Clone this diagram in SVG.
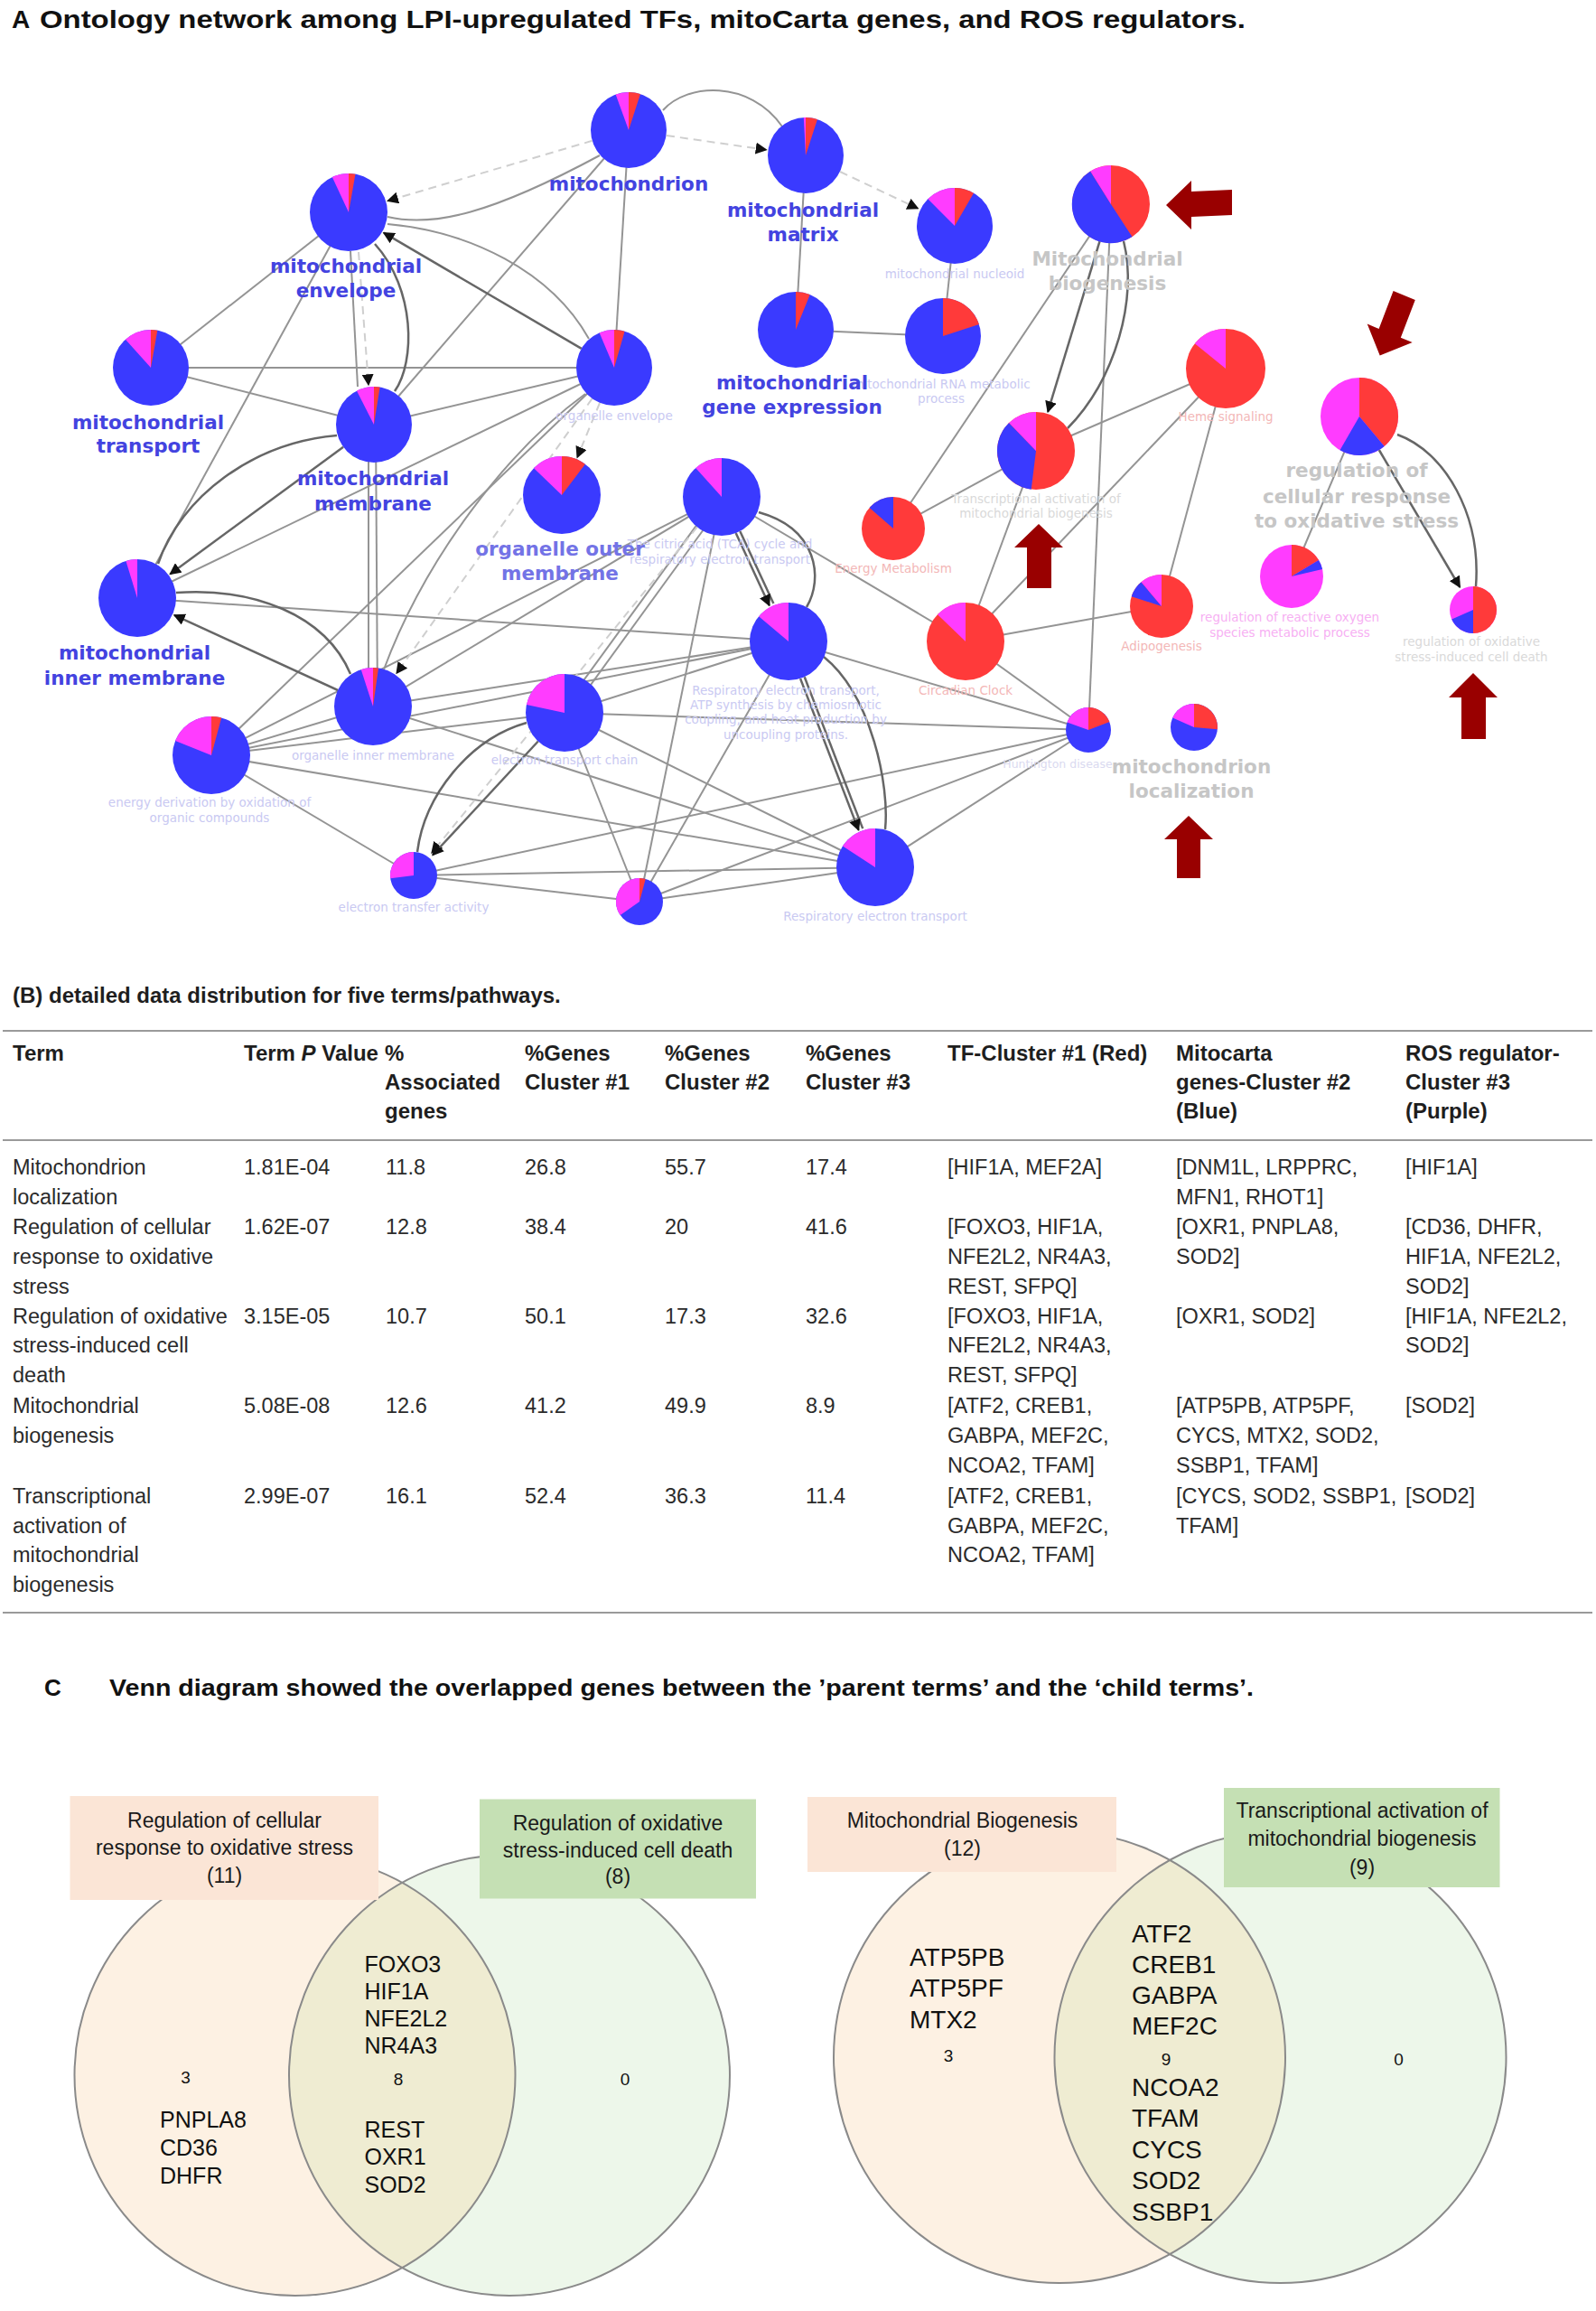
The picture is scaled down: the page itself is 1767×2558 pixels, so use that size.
<svg xmlns="http://www.w3.org/2000/svg" width="1767" height="2558" viewBox="0 0 1767 2558">
<style>
.pb{fill:#3a3aff}.pr{fill:#ff3a3a}.pm{fill:#ff3cff}
.e{stroke:#949494;stroke-width:2;fill:none}
.ed{stroke:#666;stroke-width:2.5;fill:none}
.dh{stroke:#cfcfcf;stroke-width:2;fill:none;stroke-dasharray:9 6}
.lb{font-family:"DejaVu Sans",sans-serif;font-weight:bold;font-size:21.5px;fill:#4343e0;text-anchor:middle}
.lo{fill:#7373e6}
.lg{font-family:"DejaVu Sans",sans-serif;font-weight:bold;font-size:21.5px;fill:#c6c6c6;text-anchor:middle}
.lf{font-family:"DejaVu Sans",sans-serif;font-size:13.5px;text-anchor:middle;fill:#c9c9f2}
.lp{fill:#f3b7b7}.lm{fill:#f7b0f3}.lq{fill:#d9d9d9}
.ba{fill:#990000}
.tA{font-family:"Liberation Sans",Arial,sans-serif;font-weight:bold;font-size:28px;fill:#111}
.th{font-family:"Liberation Sans",Arial,sans-serif;font-weight:bold;font-size:24px;fill:#1e1e1e}
.td{font-family:"Liberation Sans",Arial,sans-serif;font-size:23.5px;fill:#2b2b2b}
.rule{stroke:#9a9a9a;stroke-width:2}
.vb{font-family:"Liberation Sans",Arial,sans-serif;font-size:23px;fill:#1a1a1a;text-anchor:middle}
.vg{font-family:"Liberation Sans",Arial,sans-serif;font-size:25px;fill:#111}
.vg2{font-family:"Liberation Sans",Arial,sans-serif;font-size:28px;fill:#111}
.vn{font-family:"Liberation Sans",Arial,sans-serif;font-size:19px;fill:#111;text-anchor:middle}
.vc{stroke:#8a8a8a;stroke-width:2;fill:none}
</style>
<defs>
<marker id="ah" viewBox="0 0 10 10" refX="9" refY="5" markerWidth="13" markerHeight="13" markerUnits="userSpaceOnUse" orient="auto"><path d="M0,0 L10,5 L0,10 z" fill="#111"/></marker>
<clipPath id="cl1"><circle cx="326.5" cy="2297" r="244"/></clipPath>
<clipPath id="cl2"><circle cx="1173" cy="2277" r="250"/></clipPath>
</defs>
<rect width="1767" height="2558" fill="#fff"/>

<text x="13" y="31" class="tA">A</text>
<text x="44" y="31" class="tA" textLength="1335" lengthAdjust="spacingAndGlyphs">Ontology network among LPI-upregulated TFs, mitoCarta genes, and ROS regulators.</text>

<g id="connectors">
<line class="e" x1="386" y1="235" x2="167" y2="407"/>
<line class="e" x1="167" y1="407" x2="414" y2="470"/>
<line class="e" x1="167" y1="407" x2="680" y2="407"/>
<line class="e" x1="388" y1="278" x2="396" y2="428"/>
<line class="e" x1="414" y1="470" x2="696" y2="144"/>
<line class="e" x1="414" y1="470" x2="680" y2="407" stroke-width="2.5"/>
<line class="e" x1="696" y1="144" x2="680" y2="407"/>
<line class="e" x1="892" y1="172" x2="881" y2="365"/>
<line class="e" x1="881" y1="365" x2="1044" y2="372"/>
<line class="e" x1="1057" y1="250" x2="1044" y2="372"/>
<line class="e" x1="386" y1="235" x2="152" y2="662"/>
<line class="e" x1="680" y1="407" x2="152" y2="662"/>
<line class="e" x1="152" y1="662" x2="873" y2="710"/>
<line class="e" x1="408" y1="470" x2="408" y2="782"/>
<line class="e" x1="416" y1="470" x2="418" y2="782"/>
<line class="e" x1="680" y1="407" x2="234" y2="836"/>
<line class="e" x1="799" y1="550" x2="1069" y2="710"/>
<line class="e" x1="794" y1="550" x2="620" y2="789"/>
<line class="e" x1="803" y1="553" x2="630" y2="791"/>
<line class="e" x1="799" y1="550" x2="413" y2="782"/>
<line class="e" x1="799" y1="550" x2="234" y2="836"/>
<line class="e" x1="799" y1="550" x2="708" y2="998"/>
<line class="e" x1="873" y1="710" x2="1205" y2="808"/>
<line class="e" x1="873" y1="710" x2="413" y2="782"/>
<line class="e" x1="873" y1="710" x2="625" y2="789"/>
<line class="e" x1="873" y1="710" x2="234" y2="836"/>
<line class="e" x1="873" y1="710" x2="708" y2="998"/>
<line class="e" x1="625" y1="789" x2="969" y2="960"/>
<line class="e" x1="625" y1="789" x2="708" y2="998"/>
<line class="e" x1="625" y1="789" x2="1205" y2="808"/>
<line class="e" x1="234" y1="836" x2="413" y2="782"/>
<line class="e" x1="234" y1="836" x2="625" y2="789"/>
<line class="e" x1="234" y1="836" x2="969" y2="960"/>
<line class="e" x1="234" y1="836" x2="458" y2="969"/>
<line class="e" x1="458" y1="969" x2="969" y2="960"/>
<line class="e" x1="458" y1="969" x2="708" y2="998"/>
<line class="e" x1="458" y1="969" x2="1205" y2="808"/>
<line class="e" x1="708" y1="998" x2="969" y2="960"/>
<line class="e" x1="708" y1="998" x2="1205" y2="808"/>
<line class="e" x1="969" y1="960" x2="1205" y2="808"/>
<line class="e" x1="413" y1="782" x2="969" y2="960"/>
<line class="e" x1="1230" y1="226" x2="1205" y2="808"/>
<line class="e" x1="1230" y1="226" x2="989" y2="585"/>
<line class="e" x1="1147" y1="499" x2="1357" y2="408"/>
<line class="e" x1="1147" y1="499" x2="989" y2="585"/>
<line class="e" x1="1147" y1="499" x2="1069" y2="710"/>
<line class="e" x1="1069" y1="710" x2="1357" y2="408"/>
<line class="e" x1="1069" y1="710" x2="1286" y2="671"/>
<line class="e" x1="1069" y1="710" x2="1205" y2="808"/>
<line class="e" x1="1357" y1="408" x2="1286" y2="671"/>
<line class="e" x1="1505" y1="461" x2="1430" y2="638"/>
<path class="e" d="M734,122 C760,92 830,88 866,140"/>
<path class="e" d="M429,240 C480,252 545,236 664,172"/>
<path class="e" d="M429,248 C520,256 610,300 652,375"/>
<path class="ed" d="M415,270 C460,320 460,400 437,433"/>
<path class="ed" d="M373,482 C280,490 200,550 175,624"/>
<path class="ed" d="M195,656 C280,650 360,680 388,746"/>
<path class="e" d="M425,741 C470,620 560,500 648,436"/>
<path class="ed" d="M840,567 C905,585 912,640 893,672"/>
<path class="ed" d="M912,727 C965,770 985,870 980,918"/>
<path class="ed" d="M583,800 C520,818 470,880 462,943"/>
<path class="ed" d="M1244,267 C1260,330 1235,420 1182,474"/>
<path class="ed" d="M1547,481 C1600,500 1640,570 1634,649"/>
<line class="dh" x1="655.7" y1="155.8" x2="429.2" y2="222.3" marker-end="url(#ah)"/>
<line class="dh" x1="738" y1="150" x2="848.4" y2="165.8" marker-end="url(#ah)"/>
<line class="dh" x1="930" y1="190" x2="1016.3" y2="230.8" marker-end="url(#ah)"/>
<line class="dh" x1="397" y1="279" x2="408" y2="426" marker-end="url(#ah)"/>
<line class="dh" x1="655.6" y1="441.2" x2="439.1" y2="745.3" marker-end="url(#ah)"/>
<line class="dh" x1="664" y1="446" x2="639.1" y2="506.4" marker-end="url(#ah)"/>
<line class="dh" x1="771.9" y1="583.4" x2="478" y2="944" marker-end="url(#ah)"/>
<line class="ed" x1="643.8" y1="385.8" x2="424.8" y2="257.7" marker-end="url(#ah)"/>
<line class="ed" x1="380.1" y1="494.8" x2="188.3" y2="635.4" marker-end="url(#ah)"/>
<line class="ed" x1="374" y1="764" x2="192.9" y2="680.8" marker-end="url(#ah)"/>
<line class="ed" x1="819.3" y1="588" x2="856.4" y2="668" />
<line class="ed" x1="814.7" y1="590" x2="851.8" y2="670.2" marker-end="url(#ah)"/>
<line class="ed" x1="890.7" y1="749.3" x2="955.2" y2="917.1"/>
<line class="ed" x1="886.1" y1="751.1" x2="950.6" y2="918.9" marker-end="url(#ah)"/>
<line class="ed" x1="595.8" y1="820.5" x2="479" y2="946.5" marker-end="url(#ah)"/>
<line class="ed" x1="1217.5" y1="267.2" x2="1160.1" y2="455.9" marker-end="url(#ah)"/>
<line class="ed" x1="1526.8" y1="498" x2="1616.3" y2="650" marker-end="url(#ah)"/>
</g>

<g id="n-mitochondrion" transform="translate(696,144)"><circle r="42" class="pb"/><path class="pr" d="M0,0V-42A42,42 0 0 1 12.98,-39.94Z"/><path class="pm" d="M0,0L-14.36,-39.47A42,42 0 0 1 0,-42Z"/><text class="lb" y="67">mitochondrion</text></g>
<g id="n-matrix" transform="translate(892,172)"><circle r="42" class="pb"/><path class="pr" d="M0,0V-42A42,42 0 0 1 12.98,-39.94Z"/><path class="pm" d="M0,0L-2.2,-41.94A42,42 0 0 1 0,-42Z"/><text class="lb" x="-3" y="68">mitochondrial</text><text class="lb" x="-3" y="95">matrix</text></g>
<g id="n-nucleoid" transform="translate(1057,250)"><circle r="42" class="pb"/><path class="pr" d="M0,0V-42A42,42 0 0 1 21,-36.37Z"/><path class="pm" d="M0,0L-29.7,-29.7A42,42 0 0 1 0,-42Z"/><text class="lf" y="58">mitochondrial nucleoid</text></g>
<g id="n-envelope" transform="translate(386,235)"><circle r="43" class="pb"/><path class="pr" d="M0,0V-43A43,43 0 0 1 7.46,-42.35Z"/><path class="pm" d="M0,0L-18.17,-38.97A43,43 0 0 1 0,-43Z"/><text class="lb" x="-3" y="67">mitochondrial</text><text class="lb" x="-3" y="94">envelope</text></g>
<g id="n-transport" transform="translate(167,407)"><circle r="42" class="pb"/><path class="pr" d="M0,0V-42A42,42 0 0 1 7.29,-41.36Z"/><path class="pm" d="M0,0L-28.1,-31.21A42,42 0 0 1 0,-42Z"/><text class="lb" x="-3" y="68">mitochondrial</text><text class="lb" x="-3" y="94">transport</text></g>
<g id="n-org-envelope" transform="translate(680,407)"><circle r="42" class="pb"/><path class="pr" d="M0,0V-42A42,42 0 0 1 11.58,-40.37Z"/><path class="pm" d="M0,0L-16.41,-38.66A42,42 0 0 1 0,-42Z"/><text class="lf" y="58">organelle envelope</text></g>
<g id="n-gene-expression" transform="translate(881,365)"><circle r="42" class="pb"/><path class="pr" d="M0,0V-42A42,42 0 0 1 15.73,-38.94Z"/></g>
<g id="n-rna" transform="translate(1044,372)"><circle r="42" class="pb"/><path class="pr" d="M0,0V-42A42,42 0 0 1 39.95,-12.98Z"/><text class="lf" x="-2" y="58">mitochondrial RNA metabolic</text><text class="lf" x="-2" y="74">process</text></g>
<g id="n-gene-expression-label"><text class="lb" x="877" y="431">mitochondrial</text><text class="lb" x="877" y="458">gene expression</text></g>
<g id="n-membrane" transform="translate(414,470)"><circle r="42" class="pb"/><path class="pr" d="M0,0V-42A42,42 0 0 1 6.57,-41.48Z"/><path class="pm" d="M0,0L-19.07,-37.42A42,42 0 0 1 0,-42Z"/><text class="lb" x="-1" y="67">mitochondrial</text><text class="lb" x="-1" y="95">membrane</text></g>
<g id="n-org-outer" transform="translate(622,548)"><circle r="43" class="pb"/><path class="pr" d="M0,0V-43A43,43 0 0 1 25.88,-34.34Z"/><path class="pm" d="M0,0L-30.93,-29.87A43,43 0 0 1 0,-43Z"/></g>
<g id="n-tca" transform="translate(799,550)"><circle r="43" class="pb"/><path class="pm" d="M0,0L-28.77,-31.95A43,43 0 0 1 0,-43Z"/><text class="lf" x="-2" y="57">The citric acid (TCA) cycle and</text><text class="lf" x="-2" y="74">respiratory electron transport</text></g>
<g id="n-org-outer-label"><text class="lb lo" x="620" y="615">organelle outer</text><text class="lb lo" x="620" y="642">membrane</text></g>
<g id="n-inner-membrane" transform="translate(152,662)"><circle r="43" class="pb"/><path class="pm" d="M0,0L-12.57,-41.12A43,43 0 0 1 0,-43Z"/><text class="lb" x="-3" y="68">mitochondrial</text><text class="lb" x="-3" y="96">inner membrane</text></g>
<g id="n-resp-atp" transform="translate(873,710)"><circle r="43" class="pb"/><path class="pm" d="M0,0L-32.94,-27.64A43,43 0 0 1 0,-43Z"/><text class="lf" x="-3" y="59">Respiratory electron transport,</text><text class="lf" x="-3" y="75">ATP synthesis by chemiosmotic</text><text class="lf" x="-3" y="91">coupling, and heat production by</text><text class="lf" x="-3" y="108">uncoupling proteins.</text></g>
<g id="n-org-inner" transform="translate(413,782)"><circle r="43" class="pb"/><path class="pr" d="M0,0V-43A43,43 0 0 1 5.99,-42.58Z"/><path class="pm" d="M0,0L-13.29,-40.9A43,43 0 0 1 0,-43Z"/><text class="lf" y="59">organelle inner membrane</text></g>
<g id="n-etc" transform="translate(625,789)"><circle r="43" class="pb"/><path class="pm" d="M0,0L-42.06,-8.94A43,43 0 0 1 0,-43Z"/><text class="lf" y="57">electron transport chain</text></g>
<g id="n-energy-derivation" transform="translate(234,836)"><circle r="43" class="pb"/><path class="pr" d="M0,0V-43A43,43 0 0 1 11.13,-41.53Z"/><path class="pm" d="M0,0L-39.87,-16.11A43,43 0 0 1 0,-43Z"/><text class="lf" x="-2" y="57">energy derivation by oxidation of</text><text class="lf" x="-2" y="74">organic compounds</text></g>
<g id="n-electron-transfer" transform="translate(458,969)"><circle r="26" class="pb"/><path class="pm" d="M0,0L-25.8,3.17A26,26 0 0 1 0,-26Z"/><text class="lf" y="40">electron transfer activity</text></g>
<g id="n-small-bottom" transform="translate(708,998)"><circle r="26" class="pb"/><path class="pr" d="M0,0V-26A26,26 0 0 1 6.73,-25.11Z"/><path class="pm" d="M0,0L-21.3,14.91A26,26 0 0 1 0,-26Z"/></g>
<g id="n-resp-et" transform="translate(969,960)"><circle r="43" class="pb"/><path class="pm" d="M0,0L-36.06,-23.42A43,43 0 0 1 0,-43Z"/><text class="lf" y="59">Respiratory electron transport</text></g>
<g id="n-huntington" transform="translate(1205,808)"><circle r="25" class="pb"/><path class="pr" d="M0,0V-25A25,25 0 0 1 23.34,-8.96Z"/><path class="pm" d="M0,0L-23.49,-8.55A25,25 0 0 1 0,-25Z"/><text class="lf" x="-34" y="42" style="fill:#dadaf0;font-size:12.5px">Huntington disease</text></g>
<g id="n-mito-localization" transform="translate(1322,805)"><circle r="26" class="pb"/><path class="pr" d="M0,0V-26A26,26 0 0 1 25.9,2.27Z"/><path class="pm" d="M0,0L-23.75,-10.57A26,26 0 0 1 0,-26Z"/><text class="lg" x="-3" y="51">mitochondrion</text><text class="lg" x="-3" y="78">localization</text></g>
<g id="n-biogenesis" transform="translate(1230,226)"><circle r="43" class="pr"/><path class="pb" d="M0,0L23.42,36.06A43,43 0 1 1 -22.79,-36.46Z"/><path class="pm" d="M0,0L-22.79,-36.46A43,43 0 0 1 0,-43Z"/><text class="lg" x="-4" y="68">Mitochondrial</text><text class="lg" x="-4" y="95">biogenesis</text></g>
<g id="n-transcriptional" transform="translate(1147,499)"><circle r="43" class="pr"/><path class="pb" d="M0,0L-5.24,42.68A43,43 0 0 1 -29.87,-30.93Z"/><path class="pm" d="M0,0L-29.87,-30.93A43,43 0 0 1 0,-43Z"/><text class="lf lq" y="58">Transcriptional activation of</text><text class="lf lq" y="74">mitochondrial biogenesis</text></g>
<g id="n-energy-metabolism" transform="translate(989,585)"><circle r="35" class="pr"/><path class="pb" d="M0,0L-26.41,-22.96A35,35 0 0 1 0,-35Z"/><text class="lf lp" y="49">Energy Metabolism</text></g>
<g id="n-heme" transform="translate(1357,408)"><circle r="44" class="pr"/><path class="pm" d="M0,0L-34.19,-27.69A44,44 0 0 1 0,-44Z"/><text class="lf lp" y="58">Heme signaling</text></g>
<g id="n-circadian" transform="translate(1069,710)"><circle r="43" class="pr"/><path class="pm" d="M0,0L-30.93,-29.87A43,43 0 0 1 0,-43Z"/><text class="lf lp" y="59">Circadian Clock</text></g>
<g id="n-adipogenesis" transform="translate(1286,671)"><circle r="35" class="pr"/><path class="pb" d="M0,0L-33.29,-10.82A35,35 0 0 1 -22.5,-26.81Z"/><path class="pm" d="M0,0L-22.5,-26.81A35,35 0 0 1 0,-35Z"/><text class="lf lp" y="49">Adipogenesis</text></g>
<g id="n-reg-cellular" transform="translate(1505,461)"><circle r="43" class="pm"/><path class="pr" d="M0,0V-43A43,43 0 0 1 27.64,32.94Z"/><path class="pb" d="M0,0L27.64,32.94A43,43 0 0 1 -21.5,37.24Z"/><text class="lg" x="-3" y="67">regulation of</text><text class="lg" x="-3" y="96">cellular response</text><text class="lg" x="-3" y="123">to oxidative stress</text></g>
<g id="n-ros" transform="translate(1430,638)"><circle r="35" class="pm"/><path class="pr" d="M0,0V-35A35,35 0 0 1 30,-18.03Z"/><path class="pb" d="M0,0L30,-18.03A35,35 0 0 1 34.1,-7.88Z"/><text class="lf lm" x="-2" y="50">regulation of reactive oxygen</text><text class="lf lm" x="-2" y="67">species metabolic process</text></g>
<g id="n-ox-death" transform="translate(1631,675)"><circle r="26" class="pm"/><path class="pr" d="M0,0V-26A26,26 0 0 1 0,26Z"/><path class="pb" d="M0,0L0,26A26,26 0 0 1 -23.75,10.57Z"/><text class="lf lq" x="-2" y="40">regulation of oxidative</text><text class="lf lq" x="-2" y="57">stress-induced cell death</text></g>

<g id="block-arrows">
<polygon class="ba" points="1291,227 1319,200 1319,212 1364,210 1364,238 1319,240 1319,254"/>
<polygon class="ba" points="1527.7,393.6 1513.7,358.6 1526.6,363.9 1542.6,322.1 1566.8,331.9 1550.8,373.7 1563.7,379"/>
<polygon class="ba" points="1150,580 1177,606 1164,606 1164,651 1137,651 1137,606 1123,606"/>
<polygon class="ba" points="1631,745 1658,772 1645,772 1645,818 1618,818 1618,772 1604,772"/>
<polygon class="ba" points="1316,903 1343,929 1329,929 1329,972 1303,972 1303,929 1289,929"/>
</g>

<g id="table">
<text x="14" y="1110" class="th">(B) detailed data distribution for five terms/pathways.</text>
<line class="rule" x1="3" y1="1141" x2="1763" y2="1141"/>
<line class="rule" x1="3" y1="1262" x2="1763" y2="1262"/>
<line class="rule" x1="3" y1="1785" x2="1763" y2="1785"/>
<g class="th">
<text x="14" y="1174">Term</text>
<text x="270" y="1174">Term <tspan font-style="italic">P</tspan> Value</text>
<text x="426" y="1174">%</text><text x="426" y="1206">Associated</text><text x="426" y="1238">genes</text>
<text x="581" y="1174">%Genes</text><text x="581" y="1206">Cluster #1</text>
<text x="736" y="1174">%Genes</text><text x="736" y="1206">Cluster #2</text>
<text x="892" y="1174">%Genes</text><text x="892" y="1206">Cluster #3</text>
<text x="1049" y="1174">TF-Cluster #1 (Red)</text>
<text x="1302" y="1174">Mitocarta</text><text x="1302" y="1206">genes-Cluster #2</text><text x="1302" y="1238">(Blue)</text>
<text x="1556" y="1174">ROS regulator-</text><text x="1556" y="1206">Cluster #3</text><text x="1556" y="1238">(Purple)</text>
</g>
<g class="td">
<text x="14" y="1300">Mitochondrion</text><text x="14" y="1333">localization</text>
<text x="270" y="1300">1.81E-04</text><text x="427" y="1300">11.8</text><text x="581" y="1300">26.8</text><text x="736" y="1300">55.7</text><text x="892" y="1300">17.4</text>
<text x="1049" y="1300">[HIF1A, MEF2A]</text>
<text x="1302" y="1300">[DNM1L, LRPPRC,</text><text x="1302" y="1333">MFN1, RHOT1]</text>
<text x="1556" y="1300">[HIF1A]</text>

<text x="14" y="1366">Regulation of cellular</text><text x="14" y="1399">response to oxidative</text><text x="14" y="1432">stress</text>
<text x="270" y="1366">1.62E-07</text><text x="427" y="1366">12.8</text><text x="581" y="1366">38.4</text><text x="736" y="1366">20</text><text x="892" y="1366">41.6</text>
<text x="1049" y="1366">[FOXO3, HIF1A,</text><text x="1049" y="1399">NFE2L2, NR4A3,</text><text x="1049" y="1432">REST, SFPQ]</text>
<text x="1302" y="1366">[OXR1, PNPLA8,</text><text x="1302" y="1399">SOD2]</text>
<text x="1556" y="1366">[CD36, DHFR,</text><text x="1556" y="1399">HIF1A, NFE2L2,</text><text x="1556" y="1432">SOD2]</text>

<text x="14" y="1465">Regulation of oxidative</text><text x="14" y="1497">stress-induced cell</text><text x="14" y="1530">death</text>
<text x="270" y="1465">3.15E-05</text><text x="427" y="1465">10.7</text><text x="581" y="1465">50.1</text><text x="736" y="1465">17.3</text><text x="892" y="1465">32.6</text>
<text x="1049" y="1465">[FOXO3, HIF1A,</text><text x="1049" y="1497">NFE2L2, NR4A3,</text><text x="1049" y="1530">REST, SFPQ]</text>
<text x="1302" y="1465">[OXR1, SOD2]</text>
<text x="1556" y="1465">[HIF1A, NFE2L2,</text><text x="1556" y="1497">SOD2]</text>

<text x="14" y="1564">Mitochondrial</text><text x="14" y="1597">biogenesis</text>
<text x="270" y="1564">5.08E-08</text><text x="427" y="1564">12.6</text><text x="581" y="1564">41.2</text><text x="736" y="1564">49.9</text><text x="892" y="1564">8.9</text>
<text x="1049" y="1564">[ATF2, CREB1,</text><text x="1049" y="1597">GABPA, MEF2C,</text><text x="1049" y="1630">NCOA2, TFAM]</text>
<text x="1302" y="1564">[ATP5PB, ATP5PF,</text><text x="1302" y="1597">CYCS, MTX2, SOD2,</text><text x="1302" y="1630">SSBP1, TFAM]</text>
<text x="1556" y="1564">[SOD2]</text>

<text x="14" y="1664">Transcriptional</text><text x="14" y="1697">activation of</text><text x="14" y="1729">mitochondrial</text><text x="14" y="1762">biogenesis</text>
<text x="270" y="1664">2.99E-07</text><text x="427" y="1664">16.1</text><text x="581" y="1664">52.4</text><text x="736" y="1664">36.3</text><text x="892" y="1664">11.4</text>
<text x="1049" y="1664">[ATF2, CREB1,</text><text x="1049" y="1697">GABPA, MEF2C,</text><text x="1049" y="1729">NCOA2, TFAM]</text>
<text x="1302" y="1664">[CYCS, SOD2, SSBP1,</text><text x="1302" y="1697">TFAM]</text>
<text x="1556" y="1664">[SOD2]</text>
</g>
</g>

<g id="venn">
<text x="49" y="1877" class="tA" style="font-size:26px">C</text>
<text x="121" y="1877" class="tA" style="font-size:26px" textLength="1267" lengthAdjust="spacingAndGlyphs">Venn diagram showed the overlapped genes between the ’parent terms’ and the ‘child terms’.</text>

<g id="venn-left">
<circle cx="326.5" cy="2297" r="244" fill="#fdf1e3"/>
<circle cx="564" cy="2297" r="244" fill="#edf7ea"/>
<circle cx="564" cy="2297" r="244" fill="#efecd2" clip-path="url(#cl1)"/>
<circle cx="326.5" cy="2297" r="244" class="vc"/>
<circle cx="564" cy="2297" r="244" class="vc"/>
<rect x="77.5" y="1988" width="341.5" height="115" fill="#fbe5d6"/>
<rect x="531" y="1991.5" width="306" height="110" fill="#c5e0b4"/>
<text class="vb" x="248.5" y="2023">Regulation of cellular</text><text class="vb" x="248.5" y="2053">response to oxidative stress</text><text class="vb" x="248.5" y="2084">(11)</text>
<text class="vb" x="684" y="2026">Regulation of oxidative</text><text class="vb" x="684" y="2056">stress-induced cell death</text><text class="vb" x="684" y="2085">(8)</text>
<text class="vn" x="205.5" y="2306">3</text><text class="vn" x="441" y="2308">8</text><text class="vn" x="692" y="2308">0</text>
<g class="vg"><text x="403.5" y="2183">FOXO3</text><text x="403.5" y="2213">HIF1A</text><text x="403.5" y="2243">NFE2L2</text><text x="403.5" y="2273">NR4A3</text>
<text x="403.5" y="2366">REST</text><text x="403.5" y="2396">OXR1</text><text x="403.5" y="2427">SOD2</text>
<text x="177" y="2355">PNPLA8</text><text x="177" y="2386">CD36</text><text x="177" y="2417">DHFR</text></g>
</g>

<g id="venn-right">
<circle cx="1173" cy="2277" r="250" fill="#fdf1e3"/>
<circle cx="1417.5" cy="2277" r="250" fill="#edf7ea"/>
<circle cx="1417.5" cy="2277" r="250" fill="#efecd2" clip-path="url(#cl2)"/>
<circle cx="1173" cy="2277" r="250" class="vc"/>
<circle cx="1417.5" cy="2277" r="250" class="vc"/>
<rect x="894" y="1989" width="342" height="83" fill="#fbe5d6"/>
<rect x="1355" y="1979" width="305.5" height="110" fill="#c5e0b4"/>
<text class="vb" x="1065.5" y="2023">Mitochondrial Biogenesis</text><text class="vb" x="1065.5" y="2054">(12)</text>
<text class="vb" x="1508" y="2012">Transcriptional activation of</text><text class="vb" x="1508" y="2043">mitochondrial biogenesis</text><text class="vb" x="1508" y="2075">(9)</text>
<text class="vn" x="1050" y="2282">3</text><text class="vn" x="1291" y="2286">9</text><text class="vn" x="1548.5" y="2286">0</text>
<g class="vg2"><text x="1007" y="2176">ATP5PB</text><text x="1007" y="2210">ATP5PF</text><text x="1007" y="2245">MTX2</text>
<text x="1253" y="2150">ATF2</text><text x="1253" y="2184">CREB1</text><text x="1253" y="2218">GABPA</text><text x="1253" y="2252">MEF2C</text>
<text x="1253" y="2320">NCOA2</text><text x="1253" y="2354">TFAM</text><text x="1253" y="2389">CYCS</text><text x="1253" y="2423">SOD2</text><text x="1253" y="2458">SSBP1</text></g>
</g>
</g>
</svg>
